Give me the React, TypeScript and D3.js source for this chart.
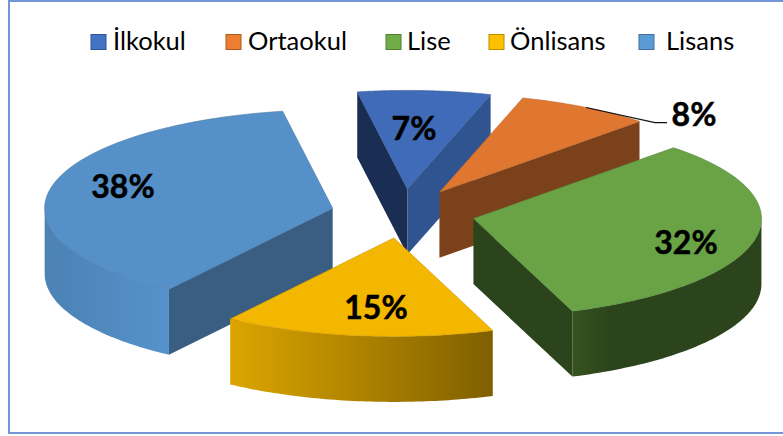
import React from "react";
import * as d3 from "d3";

const categories = ["İlkokul", "Ortaokul", "Lise", "Önlisans", "Lisans"];
const shares = [7.45, 7.55, 32.2, 15.2, 37.6];
const labels = ["7%", "8%", "32%", "15%", "38%"];
const topColors = ["#3f6bb8", "#e07730", "#69a345", "#f4b700", "#5590c8"];
const legendColors = ["#4472c4", "#ed7d31", "#70ad47", "#ffc000", "#5b9bd5"];
const legendStroke = ["#2f5597", "#ae5a21", "#507e32", "#bc8c00", "#41719c"];
const legendX = [91, 226, 386, 489, 639];
const legendTextX = [113, 248, 407, 510, 666];
const leftWall = ["#1a2d52", "none", "#2c441c", "none", "#3a5e82"];
const rightWall = ["#30548f", "#7a411a", "none", "none", "none"];
const labelPos: [number, number][] = [[414, 127], [694, 113], [686, 241], [376, 306], [123, 185]];
const arcStops = [
  ["#000", "#000"],
  ["#000", "#000"],
  ["#37541f", "#2c441c"],
  ["#dca500", "#7f6000"],
  ["#5592cb", "#4c82b4"],
];

const W = 783, H = 436;
const R = 288, K = 0.342, DEPTH = 65.5, EXPLODE = 72;
const CX = 403, CY = 213.5;
const START = (-10 * Math.PI) / 180;

const P = (a: number, r: number, o: [number, number]): [number, number] => [
  o[0] + r * Math.sin(a),
  o[1] - K * r * Math.cos(a),
];

const lineGen = d3.line<[number, number]>().x((d) => d[0]).y((d) => d[1]);

export default function App() {
  const pie = d3.pie<number>().sort(null).startAngle(START).endAngle(START + 2 * Math.PI);
  const arcs = pie(shares);
  const order = [0, 1, 2, 4, 3];
  const samples = (a0: number, a1: number) => d3.range(0, 61).map((i) => a0 + ((a1 - a0) * i) / 60);

  return (
    <svg width={W} height={H} style={{ position: "absolute", left: 0, top: 0, background: "#fff" }}
      fontFamily="Lato, sans-serif">
      <defs>
        {arcStops.map((s, i) => (
          <linearGradient key={i} id={`w${i}`} x1="0" x2="1" y1="0" y2="0">
            <stop offset="0" stopColor={i === 4 ? s[1] : s[0]} />
            <stop offset={i === 2 ? "0.2" : "1"} stopColor={i === 4 ? s[0] : s[1]} />
          </linearGradient>
        ))}
      </defs>
      <rect x={9} y={1} width={W} height={432} fill="none" stroke="#7396d6" strokeWidth={2} />
      {order.map((i) => {
        const d = arcs[i];
        const mid = (d.startAngle + d.endAngle) / 2;
        const o = P(mid, EXPLODE, [CX, CY]);
        const down = (p: [number, number]): [number, number] => [p[0], p[1] + DEPTH];
        const A = P(d.startAngle, R, o);
        const B = P(d.endAngle, R, o);
        const top = samples(d.startAngle, d.endAngle).map((a) => P(a, R, o));
        const lo = Math.max(d.startAngle, Math.PI / 2);
        const hi = Math.min(d.endAngle, (3 * Math.PI) / 2);
        const front = hi > lo ? samples(lo, hi).map((a) => P(a, R, o)) : [];
        return (
          <g key={i}>
            {leftWall[i] !== "none" && i === 0 && (
              <path d={lineGen([o, A, down(A), down(o)])! + "Z"} fill={leftWall[i]} />
            )}
            {rightWall[i] !== "none" && (
              <path d={lineGen([o, B, down(B), down(o)])! + "Z"} fill={rightWall[i]} />
            )}
            {i === 2 && <path d={lineGen([o, B, down(B), down(o)])! + "Z"} fill={leftWall[i]} />}
            {i === 4 && <path d={lineGen([o, A, down(A), down(o)])! + "Z"} fill={leftWall[i]} />}
            {front.length > 0 && (
              <path d={lineGen([...front, ...front.slice().reverse().map(down)])! + "Z"} fill={`url(#w${i})`} />
            )}
            <path d={lineGen([o, ...top])! + "Z"} fill={topColors[i]} stroke={d3.color(topColors[i])!.darker(0.5).formatHex()} strokeWidth={0.6} />
          </g>
        );
      })}
      <path d={lineGen([[586, 107.5], [655, 122.7], [667, 122.7]])!} fill="none" stroke="#111" strokeWidth={1.2} />
      {labels.map((t, i) => (
        <text key={t} x={labelPos[i][0]} y={labelPos[i][1]} textAnchor="middle" dominantBaseline="central"
          fontSize={32} fontWeight={700} fill="#000" stroke="#000" strokeWidth={0.5}>{t}</text>
      ))}
      {categories.map((c, i) => (
        <g key={c}>
          <rect x={legendX[i]} y={34.5} width={15} height={15} fill={legendColors[i]} stroke={legendStroke[i]} strokeWidth={1} />
          <text x={legendTextX[i]} y={50} fontSize={25.5} fill="#000">{c}</text>
        </g>
      ))}
    </svg>
  );
}
